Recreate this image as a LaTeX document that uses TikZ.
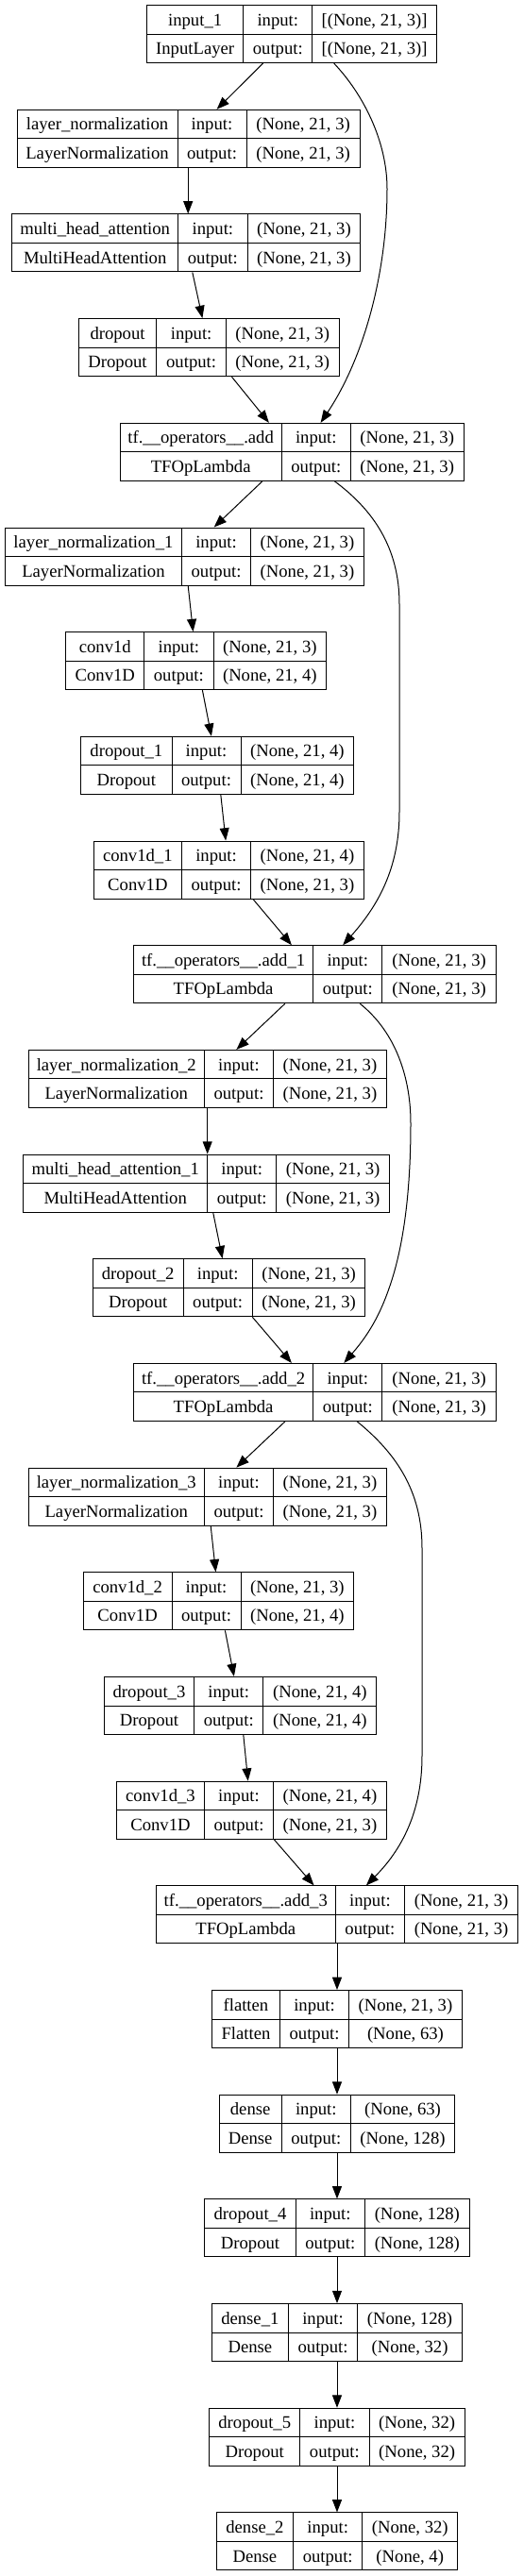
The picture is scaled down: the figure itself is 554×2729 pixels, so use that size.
\documentclass[tikz,border=0pt]{standalone}
\usepackage{fontspec}
\setmainfont{Liberation Serif}
\usetikzlibrary{arrows.meta,fit}
\tikzset{
  layerbox/.style={draw=black, line width=0.75pt, inner sep=0pt, fill=white},
  divider/.style={draw=black, line width=0.75pt},
  cell/.style={anchor=base, inner sep=0pt, font=\fontsize{14}{16}\selectfont},
  edge/.style={draw=black, line width=0.75pt, -{Triangle[length=10pt,width=7.5pt]}},
}
\newcommand\kbox[6]{%
  \pgfmathsetmacro\klYt{5.6+110.68*(#2-1)}%
  \pgfmathsetmacro\klYb{\klYt+61}%
  \pgfmathsetmacro\klYm{\klYt+30.5}%
  \pgfmathsetmacro\klBa{\klYt+21.6}%
  \pgfmathsetmacro\klBb{\klYt+52.1}%
  \pgfmathsetmacro\klXa{(#3+#4)/2}%
  \pgfmathsetmacro\klXb{(#4+#5)/2}%
  \pgfmathsetmacro\klXc{(#5+#6)/2}%
  \node[layerbox, fit={(#3,\klYt) (#6,\klYb)}] (#1) {};
  \draw[divider] (#3,\klYm) -- (#6,\klYm) (#4,\klYt) -- (#4,\klYb) (#5,\klYt) -- (#5,\klYb);
}
\newcommand\ktext[5]{%
  \node[cell] (#1-n) at (\klXa,\klBa) {#2};
  \node[cell] (#1-t) at (\klXa,\klBb) {#3};
  \node[cell] (#1-i) at (\klXb,\klBa) {input:};
  \node[cell] (#1-o) at (\klXb,\klBb) {output:};
  \node[cell] (#1-s) at (\klXc,\klBa) {#4};
  \node[cell] (#1-r) at (\klXc,\klBb) {#5};
}
\begin{document}
\begin{tikzpicture}[x=0.75pt, y=-0.75pt]
\path[use as bounding box, fill=white] (0,0) rectangle (554,2729);

\kbox{in1}{1}{155.5}{257.8}{330.8}{462.3}
\ktext{in1}{input\_1}{InputLayer}{[(None, 21, 3)]}{[(None, 21, 3)]}
\kbox{ln}{2}{18.0}{188.0}{261.0}{381.2}
\ktext{ln}{layer\_normalization}{LayerNormalization}{(None, 21, 3)}{(None, 21, 3)}
\kbox{mha}{3}{12.7}{188.7}{262.0}{381.9}
\ktext{mha}{multi\_head\_attention}{MultiHeadAttention}{(None, 21, 3)}{(None, 21, 3)}
\kbox{do}{4}{83.3}{165.8}{239.4}{359.0}
\ktext{do}{dropout}{Dropout}{(None, 21, 3)}{(None, 21, 3)}
\kbox{add}{5}{127.0}{298.3}{371.3}{491.2}
\ktext{add}{tf.\_\_operators\_\_.add}{TFOpLambda}{(None, 21, 3)}{(None, 21, 3)}
\kbox{ln1}{6}{5.3}{192.6}{265.5}{385.4}
\ktext{ln1}{layer\_normalization\_1}{LayerNormalization}{(None, 21, 3)}{(None, 21, 3)}
\kbox{cv}{7}{69.9}{152.7}{226.0}{345.6}
\ktext{cv}{conv1d}{Conv1D}{(None, 21, 3)}{(None, 21, 4)}
\kbox{do1}{8}{85.7}{182.0}{255.0}{374.8}
\ktext{do1}{dropout\_1}{Dropout}{(None, 21, 4)}{(None, 21, 4)}
\kbox{cv1}{9}{99.1}{192.6}{265.5}{385.4}
\ktext{cv1}{conv1d\_1}{Conv1D}{(None, 21, 4)}{(None, 21, 3)}
\kbox{add1}{10}{141.4}{331.8}{404.8}{525.4}
\ktext{add1}{tf.\_\_operators\_\_.add\_1}{TFOpLambda}{(None, 21, 3)}{(None, 21, 3)}
\kbox{ln2}{11}{30.0}{216.5}{289.5}{409.4}
\ktext{ln2}{layer\_normalization\_2}{LayerNormalization}{(None, 21, 3)}{(None, 21, 3)}
\kbox{mha1}{12}{24.7}{219.7}{292.7}{412.6}
\ktext{mha1}{multi\_head\_attention\_1}{MultiHeadAttention}{(None, 21, 3)}{(None, 21, 3)}
\kbox{do2}{13}{98.4}{194.0}{267.3}{386.8}
\ktext{do2}{dropout\_2}{Dropout}{(None, 21, 3)}{(None, 21, 3)}
\kbox{add2}{14}{141.4}{331.8}{404.8}{525.4}
\ktext{add2}{tf.\_\_operators\_\_.add\_2}{TFOpLambda}{(None, 21, 3)}{(None, 21, 3)}
\kbox{ln3}{15}{30.0}{216.5}{289.5}{409.4}
\ktext{ln3}{layer\_normalization\_3}{LayerNormalization}{(None, 21, 3)}{(None, 21, 3)}
\kbox{cv2}{16}{88.2}{182.0}{255.0}{374.8}
\ktext{cv2}{conv1d\_2}{Conv1D}{(None, 21, 3)}{(None, 21, 4)}
\kbox{do3}{17}{110.4}{205.6}{278.9}{398.8}
\ktext{do3}{dropout\_3}{Dropout}{(None, 21, 4)}{(None, 21, 4)}
\kbox{cv3}{18}{123.4}{216.5}{289.5}{409.4}
\ktext{cv3}{conv1d\_3}{Conv1D}{(None, 21, 4)}{(None, 21, 3)}
\kbox{add3}{19}{165.1}{355.4}{428.4}{548.7}
\ktext{add3}{tf.\_\_operators\_\_.add\_3}{TFOpLambda}{(None, 21, 3)}{(None, 21, 3)}
\kbox{fl}{20}{224.3}{296.6}{369.5}{489.4}
\ktext{fl}{flatten}{Flatten}{(None, 21, 3)}{(None, 63)}
\kbox{de}{21}{232.0}{298.3}{371.3}{481.7}
\ktext{de}{dense}{Dense}{(None, 63)}{(None, 128)}
\kbox{do4}{22}{216.9}{313.1}{386.5}{497.2}
\ktext{do4}{dropout\_4}{Dropout}{(None, 128)}{(None, 128)}
\kbox{de1}{23}{224.3}{305.4}{378.7}{489.4}
\ktext{de1}{dense\_1}{Dense}{(None, 128)}{(None, 32)}
\kbox{do5}{24}{221.8}{317.7}{391.1}{492.2}
\ktext{do5}{dropout\_5}{Dropout}{(None, 32)}{(None, 32)}
\kbox{de2}{25}{229.2}{310.7}{383.7}{484.8}
\ktext{de2}{dense\_2}{Dense}{(None, 32)}{(None, 4)}

% straight connectors
\draw[edge] (278.6,0 |- in1.south) -- (229.6,0 |- ln.north);
\draw[edge] (199.2,0 |- ln.south) -- (199.2,0 |- mha.north);
\draw[edge] (203.8,0 |- mha.south) -- (214.4,0 |- do.north);
\draw[edge] (245.4,0 |- do.south) -- (284.9,0 |- add.north);
\draw[edge] (277.9,0 |- add.south) -- (226.7,0 |- ln1.north);
\draw[edge] (199.2,0 |- ln1.south) -- (204.5,0 |- cv.north);
\draw[edge] (214.4,0 |- cv.south) -- (223.9,0 |- do1.north);
\draw[edge] (233.8,0 |- do1.south) -- (239.1,0 |- cv1.north);
\draw[edge] (268.0,0 |- cv1.south) -- (308.9,0 |- add1.north);
\draw[edge] (301.9,0 |- add1.south) -- (250.4,0 |- ln2.north);
\draw[edge] (219.7,0 |- ln2.south) -- (219.7,0 |- mha1.north);
\draw[edge] (225.7,0 |- mha1.south) -- (235.6,0 |- do2.north);
\draw[edge] (267.3,0 |- do2.south) -- (308.9,0 |- add2.north);
\draw[edge] (301.9,0 |- add2.south) -- (250.4,0 |- ln3.north);
\draw[edge] (223.2,0 |- ln3.south) -- (228.5,0 |- cv2.north);
\draw[edge] (238.4,0 |- cv2.south) -- (247.9,0 |- do3.north);
\draw[edge] (257.8,0 |- do3.south) -- (262.7,0 |- cv3.north);
\draw[edge] (290.2,0 |- cv3.south) -- (332.5,0 |- add3.north);
\draw[edge] (357,0 |- add3.south) -- (357,0 |- fl.north);
\draw[edge] (357,0 |- fl.south) -- (357,0 |- de.north);
\draw[edge] (357,0 |- de.south) -- (357,0 |- do4.north);
\draw[edge] (357,0 |- do4.south) -- (357,0 |- de1.north);
\draw[edge] (357,0 |- de1.south) -- (357,0 |- do5.north);
\draw[edge] (357,0 |- do5.south) -- (357,0 |- de2.north);

% skip connections
\draw[edge] (353.7,0 |- in1.south) .. controls (385,100) and (410,150) .. (410,200)
  .. controls (410,290) and (385,380) .. (339.6,0 |- add.north);
\draw[edge] (354.4,0 |- add.south) .. controls (395,540) and (423,580) .. (423,640)
  -- (423,860) .. controls (423,920) and (400,960) .. (363.2,0 |- add1.north);
\draw[edge] (381.2,0 |- add1.south) .. controls (415,1090) and (435,1135) .. (435,1190)
  .. controls (435,1260) and (428,1320) .. (412,1365)
  .. controls (400,1400) and (385,1420) .. (364.3,0 |- add2.north);
\draw[edge] (378.3,0 |- add2.south) .. controls (420,1540) and (447,1580) .. (447,1640)
  -- (447,1860) .. controls (447,1920) and (425,1960) .. (387.9,0 |- add3.north);
\end{tikzpicture}
\end{document}
